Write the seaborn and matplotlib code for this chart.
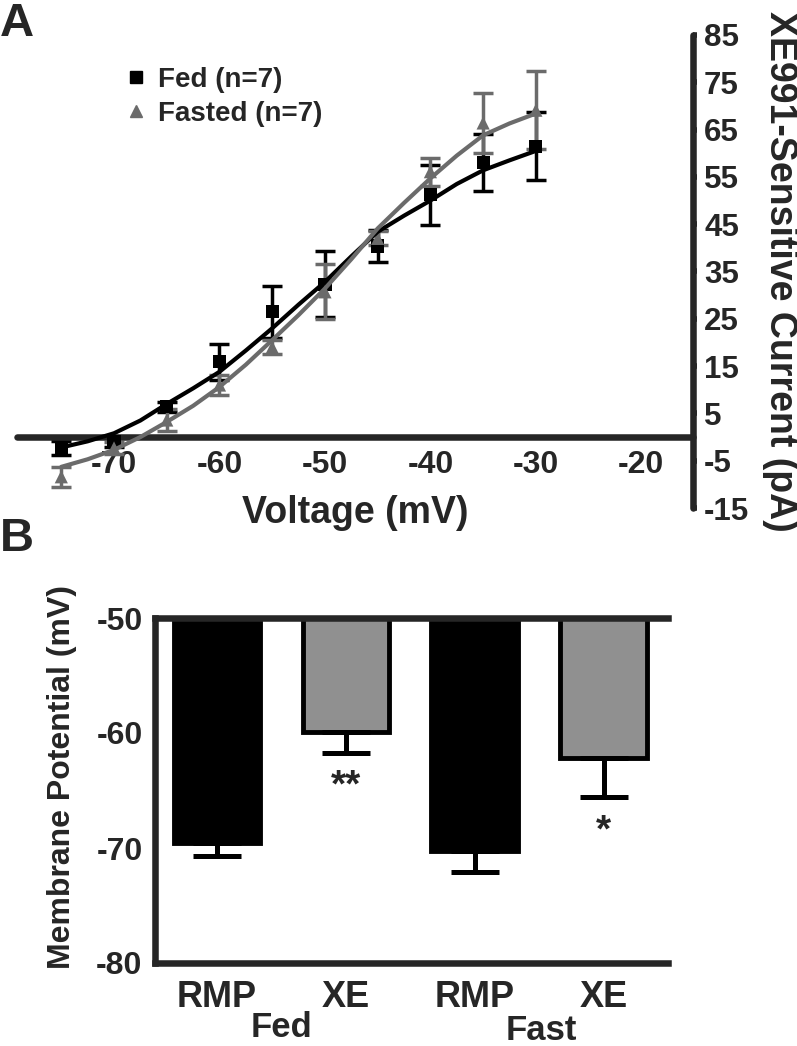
import numpy as np
import pandas as pd
import seaborn as sns
import matplotlib.pyplot as plt
from matplotlib.lines import Line2D

# ---- Panel A: XE991-sensitive current vs voltage (mean +/- SEM) ----
voltage = [-75, -70, -65, -60, -55, -50, -45, -40, -35, -30]
fed_current = [-2.3, -1.0, 6.4, 15.9, 26.5, 32.3, 40.4, 51.2, 58.1, 61.5]
fed_sem = [1.5, 1.0, 1.0, 3.8, 5.5, 7.0, 3.4, 6.4, 6.0, 7.2]
fasted_current = [-8.4, -2.3, 3.6, 11.0, 19.0, 30.7, 42.0, 56.1, 66.4, 69.1]
fasted_sem = [2.1, 1.2, 2.3, 2.1, 1.5, 5.8, 1.5, 3.0, 6.3, 8.3]

# fitted curves
fit_voltage = [-75, -72.5, -70, -67.5, -65, -62.5, -60, -57.5, -55, -52.5,
               -50, -47.5, -45, -42.5, -40, -37.5, -35, -32.5, -30]
fed_fit = [-2.2, -0.9, 0.8, 3.5, 7.0, 10.3, 13.8, 18.3, 23.0, 28.0,
           32.8, 38.2, 43.4, 46.8, 50.0, 53.5, 56.4, 58.5, 60.5]
fasted_fit = [-6.3, -4.7, -2.7, 0.0, 3.2, 6.6, 10.6, 15.3, 20.5, 25.8,
              31.4, 37.6, 44.1, 49.5, 54.7, 59.5, 63.8, 66.3, 68.4]

groups = ['Fed', 'Fasted']
legend_labels = ['Fed (n=7)', 'Fasted (n=7)']

# ---- Panel B: membrane potential ----
conditions = ['Fed RMP', 'Fed XE', 'Fast RMP', 'Fast XE']
bar_labels = ['RMP', 'XE', 'RMP', 'XE']
group_labels = ['Fed', 'Fast']
potential = [-69.6, -59.9, -70.3, -62.2]
potential_sem = [1.1, 1.8, 1.8, 3.4]
stars = ['', '**', '', '*']

BLACK = '#000000'
GRAY = '#6b6b6b'
BAR_GRAY = '#909090'

sns.set_style('white')
plt.rcParams['font.family'] = ['Liberation Sans', 'DejaVu Sans']
plt.rcParams['font.weight'] = 'bold'
plt.rcParams['axes.labelweight'] = 'bold'
plt.rcParams['axes.unicode_minus'] = False

fig = plt.figure(figsize=(7.97, 10.46), dpi=100)

# ================= Panel A =================
axA = fig.add_axes([17 / 797, 1 - 508 / 1046, 676 / 797, 473 / 1046])

dfA = pd.DataFrame({
    'voltage': voltage * 2,
    'current': fed_current + fasted_current,
    'sem': fed_sem + fasted_sem,
    'group': ['Fed'] * len(voltage) + ['Fasted'] * len(voltage),
})
dfFit = pd.DataFrame({
    'voltage': fit_voltage * 2,
    'current': fed_fit + fasted_fit,
    'group': ['Fed'] * len(fit_voltage) + ['Fasted'] * len(fit_voltage),
})
pal = {'Fed': BLACK, 'Fasted': GRAY}

for g in groups:
    sub = dfA[dfA['group'] == g]
    axA.errorbar(sub['voltage'], sub['current'], yerr=sub['sem'], fmt='none',
                 ecolor=pal[g], elinewidth=2.5, capsize=7, capthick=2.5, zorder=2)

sns.scatterplot(data=dfA, x='voltage', y='current', hue='group', style='group',
                markers={'Fed': 's', 'Fasted': '^'}, palette=pal, s=90,
                edgecolor='none', legend=False, ax=axA, zorder=3)
sns.lineplot(data=dfFit, x='voltage', y='current', hue='group', palette=pal,
             linewidth=3, legend=False, ax=axA, zorder=4)

axA.set_xlim(-79.2, -15.1)
axA.set_ylim(-15, 85)
axA.spines['top'].set_visible(False)
axA.spines['left'].set_visible(False)
axA.spines['bottom'].set_position(('data', 0))
for s in ['bottom', 'right']:
    axA.spines[s].set_linewidth(4.7)
    axA.spines[s].set_capstyle('round')
axA.yaxis.tick_right()
axA.set_xticks([-70, -60, -50, -40, -30, -20])
axA.set_yticks(np.arange(-15, 86, 10))
axA.tick_params(axis='x', direction='out', length=3, width=4, pad=6, labelsize=23)
axA.tick_params(axis='y', direction='out', length=3, width=4, pad=5, labelsize=22.5)
for lab in axA.get_xticklabels() + axA.get_yticklabels():
    lab.set_fontweight('bold')

axA.set_xlabel('Voltage (mV)', fontsize=27, fontweight='bold', va='center')
axA.xaxis.set_label_coords(0.5, -0.011)
axA.yaxis.set_label_position('right')
axA.set_ylabel('XE991-Sensitive Current (pA)', fontsize=27, fontweight='bold',
               rotation=270, va='center', ha='center')
axA.yaxis.set_label_coords(1.129, 0.5)

handles = [Line2D([], [], marker='s', color=BLACK, linestyle='none', markersize=9),
           Line2D([], [], marker='^', color=GRAY, linestyle='none', markersize=9)]
axA.legend(handles, legend_labels, loc='upper left', bbox_to_anchor=(0.135, 0.962),
           frameon=False, borderpad=0, handlelength=1.0, handletextpad=0.3,
           labelspacing=0.3, prop={'size': 20, 'weight': 'bold'})

# ================= Panel B =================
axB = fig.add_axes([155 / 797, 1 - 963 / 1046, 513 / 797, 345 / 1046])

dfB = pd.DataFrame({'condition': conditions, 'potential': potential, 'sem': potential_sem})
sns.barplot(data=dfB, x='condition', y='potential', hue='condition',
            palette=[BLACK, BAR_GRAY, BLACK, BAR_GRAY], width=0.67,
            edgecolor='black', linewidth=3.5, errorbar=None, legend=False, ax=axB)
pos = np.arange(len(conditions))
axB.errorbar(pos, dfB['potential'], yerr=[dfB['sem'], np.zeros(len(pos))], fmt='none',
             ecolor='black', elinewidth=3.6, capsize=17, capthick=3.6, zorder=1)
for x, m, e, st in zip(pos, potential, potential_sem, stars):
    if st:
        axB.text(x, m - e - 1.4, st, ha='center', va='top', fontsize=28, fontweight='bold')

axB.set_ylim(-80, -50)
axB.set_xlim(-0.48, 3.5)
axB.spines['right'].set_visible(False)
for s in ['top', 'bottom', 'left']:
    axB.spines[s].set_linewidth(4.7)
axB.set_yticks([-80, -70, -60, -50])
axB.set_xticks(pos)
axB.set_xticklabels(bar_labels)
axB.tick_params(axis='y', direction='out', length=4, width=4, pad=5, labelsize=23)
axB.tick_params(axis='x', direction='out', length=4, width=4, pad=8, labelsize=26)
for lab in axB.get_xticklabels() + axB.get_yticklabels():
    lab.set_fontweight('bold')
axB.set_xlabel('')
axB.set_ylabel('Membrane Potential (mV)', fontsize=23, fontweight='bold', va='center')
axB.yaxis.set_label_coords(-0.181, 0.539)

for gx, gy, gl in zip([0.5, 2.52], [-0.188, -0.195], group_labels):
    axB.text(gx, gy, gl, transform=axB.get_xaxis_transform(), ha='center', va='center',
             fontsize=25, fontweight='bold')

# panel letters
fig.text(0.0, 1 - 36 / 1046, 'A', fontsize=34, fontweight='bold', va='baseline')
fig.text(0.0, 1 - 551 / 1046, 'B', fontsize=34, fontweight='bold', va='baseline')

fig.savefig('out.png', dpi=100)
